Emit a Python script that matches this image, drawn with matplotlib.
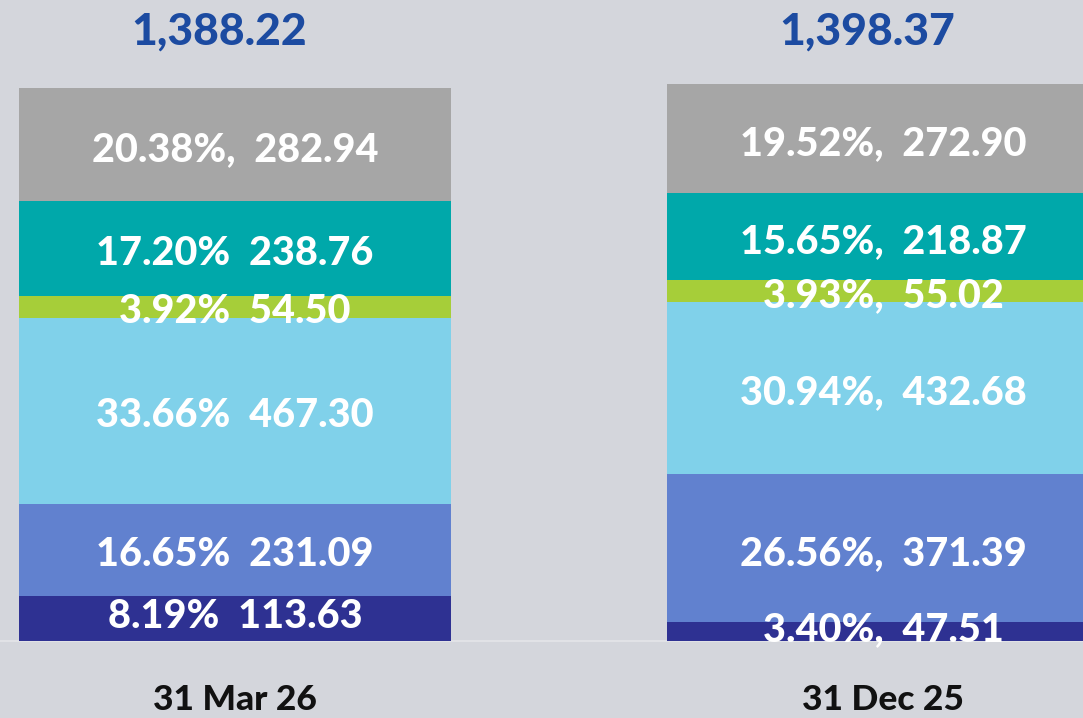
import matplotlib
matplotlib.use("Agg")
import matplotlib.pyplot as plt
import numpy as np

# ---- data ----
categories = ["31 Mar 26", "31 Dec 25"]
totals = ["1,388.22", "1,398.37"]
# segments bottom -> top
values_mar26 = [113.63, 231.09, 467.30, 54.50, 238.76, 282.94]
pct_mar26 = ["8.19%", "16.65%", "33.66%", "3.92%", "17.20%", "20.38%,"]
values_dec25 = [47.51, 371.39, 432.68, 55.02, 218.87, 272.90]
pct_dec25 = ["3.40%,", "26.56%,", "30.94%,", "3.93%,", "15.65%,", "19.52%,"]

colors = ["#2e3192", "#6181cf", "#80d1ea", "#a6ce39", "#00a8aa", "#a6a6a6"]
bg = "#d4d6dc"
font = "Lato"

fig = plt.figure(figsize=(10.83, 7.18), dpi=100, facecolor=bg)
ax = fig.add_axes([0, 0, 1, 1])
ax.set_facecolor(bg)
for s in ax.spines.values():
    s.set_visible(False)
ax.set_xticks([])
ax.set_yticks([])

xs = np.arange(len(categories))
width = 0.667
all_vals = [values_mar26, values_dec25]
all_pcts = [pct_mar26, pct_dec25]

for i, (vals, pcts) in enumerate(zip(all_vals, all_pcts)):
    bottom = 0.0
    for j, (v, p) in enumerate(zip(vals, pcts)):
        ax.bar(xs[i], v, width=width, bottom=bottom, color=colors[j], edgecolor="none")
        ymid = bottom + v / 2
        dy = 14 if j == 0 else -4
        ax.text(xs[i], ymid + dy, f"{p}  {v:.2f}", ha="center", va="center_baseline",
                color="white", fontsize=28.5, fontweight="black", family=font)
        bottom += v
    ax.text(xs[i] - 0.024, 1530, totals[i], ha="center", va="center",
            color="#1c4ba1", fontsize=32, fontweight="black", family=font)
    ax.text(xs[i], -148, categories[i], ha="center", va="center",
            color="#111111", fontsize=25.5, fontweight="black", family=font)

ax.axhline(0, color="#e4e5e9", lw=1.2, zorder=0)
ax.set_xlim(-0.3627, 1.3086)
ax.set_ylim(-193.3, 1609.3)

fig.savefig("out.png", dpi=100, facecolor=bg)
